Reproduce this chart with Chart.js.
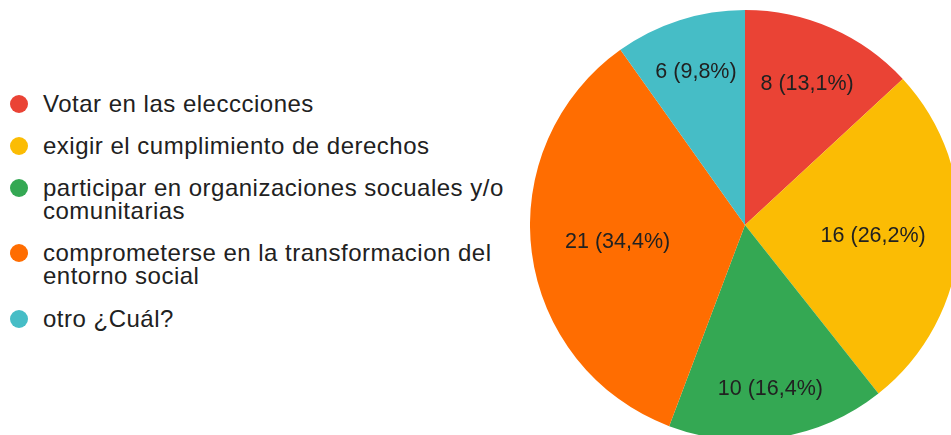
<!DOCTYPE html>
<html>
<head>
<meta charset="utf-8">
<script src="https://cdn.jsdelivr.net/npm/chart.js@4.4.0/dist/chart.umd.min.js"></script>
<style>
    html, body { margin: 0; padding: 0; background: #fff; width: 951px; height: 435px; overflow: hidden; position: relative; }
    #legend { position: absolute; left: 0; top: 0; font-family: Arial, 'Liberation Sans', sans-serif; font-size: 24px; letter-spacing: 0.5px; color: #212121; }
    .item { position: absolute; left: 43px; line-height: 23px; white-space: nowrap; }
    .dot { position: absolute; left: -33px; top: 3px; width: 18px; height: 18px; border-radius: 50%; }
    #wrap { position: absolute; left: 530px; top: 10px; width: 430px; height: 430px; }
</style>
</head>
<body>
<div id="legend"></div>
<div id="wrap"><canvas id="pieChart" width="430" height="430"></canvas></div>
<script>
// Datos del gráfico
const labels = [
    ['Votar en las eleccciones'],
    ['exigir el cumplimiento de derechos'],
    ['participar en organizaciones socuales y/o', 'comunitarias'],
    ['comprometerse en la transformacion del', 'entorno social'],
    ['otro ¿Cuál?']
];
const values = [8, 16, 10, 21, 6];
const colors = ['#ea4335', '#fbbc04', '#34a853', '#ff6d01', '#46bdc6'];

// Leyenda en HTML (texto con saltos de línea)
const legendTops = [92, 134, 176, 241, 307];
const legendEl = document.getElementById('legend');
labels.forEach((lines, i) => {
    const div = document.createElement('div');
    div.className = 'item';
    div.style.top = legendTops[i] + 'px';
    div.innerHTML = '<span class="dot" style="background:' + colors[i] + '"></span>' + lines.join('<br>');
    legendEl.appendChild(div);
});

// Etiquetas dentro de cada porción
const sliceLabels = {
    id: 'sliceLabels',
    afterDatasetsDraw(chart) {
        const { ctx } = chart;
        const data = chart.data.datasets[0].data;
        const total = data.reduce((a, b) => a + b, 0);
        const fontSize = 21.5;
        ctx.save();
        ctx.font = fontSize + 'px Arial, "Liberation Sans", sans-serif';
        ctx.fillStyle = '#212121';
        ctx.textAlign = 'center';
        ctx.textBaseline = 'middle';
        chart.getDatasetMeta(0).data.forEach((arc, i) => {
            const { x, y, startAngle, endAngle, outerRadius } = arc.getProps(['x', 'y', 'startAngle', 'endAngle', 'outerRadius'], true);
            const pct = (data[i] * 100 / total).toFixed(1).replace('.', ',');
            const text = data[i] + ' (' + pct + '%)';
            const w = ctx.measureText(text).width;
            const h = fontSize * 0.8;
            const mid = (startAngle + endAngle) / 2;
            const d = 0.845 * outerRadius - (w / 2) * Math.abs(Math.cos(mid)) - (h / 2) * Math.abs(Math.sin(mid));
            ctx.fillText(text, x + d * Math.cos(mid), y + d * Math.sin(mid) + 1);
        });
        ctx.restore();
    }
};

const pieCtx = document.getElementById('pieChart').getContext('2d');
const pieChartIns = new Chart(pieCtx, {
    type: 'pie',
    data: {
        labels: labels.map(l => l.join(' ')),
        datasets: [{ data: values, backgroundColor: colors, borderWidth: 0 }]
    },
    options: {
        responsive: false,
        animation: false,
        layout: { padding: 0 },
        plugins: { legend: { display: false }, tooltip: { enabled: false } }
    },
    plugins: [sliceLabels]
});
</script>
</body>
</html>
